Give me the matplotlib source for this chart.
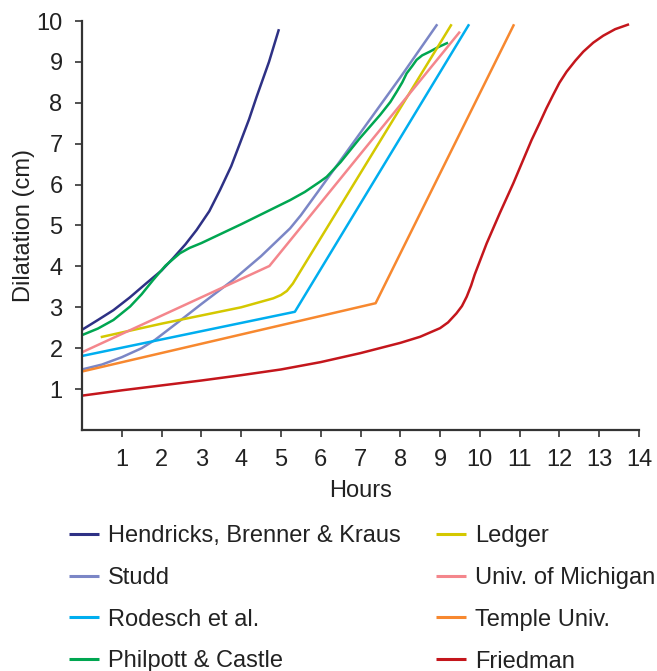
import matplotlib
matplotlib.use("Agg")
import matplotlib.pyplot as plt

plt.rcParams['font.family'] = ['Liberation Sans', 'DejaVu Sans']

# ---- data (hours, dilatation cm) ----
hendricks_x = [0, 0.4, 0.79, 1.2, 1.62, 2.0, 2.29, 2.6, 2.88, 3.2, 3.47, 3.75, 3.97, 4.2, 4.39, 4.7, 4.95]
hendricks_y = [2.45, 2.69, 2.93, 3.24, 3.59, 3.9, 4.2, 4.54, 4.89, 5.35, 5.87, 6.45, 7.01, 7.6, 8.15, 9.0, 9.8]

studd_x = [0, 0.5, 1, 1.5, 1.83, 2.5, 3, 3.8, 4.5, 5.23, 5.5, 6, 7, 8, 8.93]
studd_y = [1.48, 1.6, 1.78, 2.0, 2.2, 2.7, 3.08, 3.67, 4.25, 4.93, 5.25, 5.92, 7.27, 8.62, 9.92]

rodesch_x = [0, 5.35, 9.73]
rodesch_y = [1.81, 2.89, 9.92]

philpott_x = [0, 0.4, 0.79, 1.21, 1.5, 1.79, 2.1, 2.46, 2.7, 3, 4, 5.23, 5.6, 5.98, 6.15, 6.5, 6.98, 7.49, 7.75, 7.91, 8.05, 8.16, 8.3, 8.41, 8.55, 8.74, 8.95, 9.2]
philpott_y = [2.32, 2.48, 2.69, 3.02, 3.32, 3.67, 4.02, 4.32, 4.45, 4.57, 5.03, 5.62, 5.82, 6.07, 6.19, 6.55, 7.13, 7.7, 8.02, 8.27, 8.5, 8.72, 8.9, 9.05, 9.16, 9.25, 9.36, 9.47]

ledger_x = [0.47, 2, 4, 4.81, 5.0, 5.15, 5.3, 5.45, 9.29]
ledger_y = [2.27, 2.6, 3.0, 3.22, 3.3, 3.4, 3.58, 3.82, 9.92]

michigan_x = [0, 4.71, 9.5]
michigan_y = [1.9, 4.01, 9.74]

temple_x = [0, 7.38, 10.86]
temple_y = [1.43, 3.1, 9.92]

friedman_x = [0, 1, 2, 3, 4, 5, 6, 7, 8, 8.5, 9.0, 9.2, 9.41, 9.55, 9.67, 9.78, 9.87, 10.17, 10.5, 10.84, 11.3, 11.5, 11.67, 11.84, 12.0, 12.18, 12.4, 12.6, 12.85, 13.1, 13.4, 13.75]
friedman_y = [0.84, 0.97, 1.09, 1.21, 1.34, 1.48, 1.66, 1.88, 2.13, 2.28, 2.49, 2.63, 2.85, 3.03, 3.26, 3.53, 3.8, 4.56, 5.3, 6.03, 7.09, 7.5, 7.86, 8.19, 8.49, 8.76, 9.03, 9.25, 9.47, 9.64, 9.8, 9.92]

labels = ["Hendricks, Brenner & Kraus", "Studd", "Rodesch et al.", "Philpott & Castle",
          "Ledger", "Univ. of Michigan", "Temple Univ.", "Friedman"]
colors = ["#2e3185", "#7b86c6", "#00aeef", "#00a651",
          "#d4c800", "#f4868c", "#f7882f", "#c4161c"]
series = [(hendricks_x, hendricks_y), (studd_x, studd_y), (rodesch_x, rodesch_y),
          (philpott_x, philpott_y), (ledger_x, ledger_y), (michigan_x, michigan_y),
          (temple_x, temple_y), (friedman_x, friedman_y)]

x_ticks = list(range(1, 15))
y_ticks = list(range(1, 11))

FS = 17

fig = plt.figure(figsize=(6.57, 6.71), dpi=100)
ax = fig.add_axes([82/657, 1-430/671, (639-82)/657, (430-21)/671])

handles = []
for (xs, ys), c, lab in zip(series, colors, labels):
    h, = ax.plot(xs, ys, color=c, lw=1.8, label=lab, solid_capstyle='butt',
                 solid_joinstyle='round')
    handles.append(h)

ax.set_xlim(0, 14)
ax.set_ylim(0, 10)
ax.set_xticks(x_ticks)
ax.set_yticks(y_ticks)
ax.tick_params(direction='out', length=5, width=1.2, color='#333333',
               labelsize=FS, labelcolor='#222222')
ax.tick_params(axis='x', pad=8.5)
ax.tick_params(axis='y', pad=9)
for s in ['top', 'right']:
    ax.spines[s].set_visible(False)
for s in ['left', 'bottom']:
    ax.spines[s].set_linewidth(1.6)
    ax.spines[s].set_color('#333333')

ax.set_xlabel("Hours", fontsize=FS, color='#222222', labelpad=7)
ax.set_ylabel("Dilatation (cm)", fontsize=FS, color='#222222', labelpad=1)

leg = fig.legend(handles=handles, labels=labels, ncol=2, loc='upper left',
                 bbox_to_anchor=(69/657, 1-525/671), frameon=False, fontsize=FS,
                 handlelength=1.27, handletextpad=0.38, columnspacing=1.5,
                 labelspacing=0.84, borderaxespad=0, borderpad=0)
for t in leg.get_texts():
    t.set_color('#222222')
for l in leg.get_lines():
    l.set_linewidth(2.2)

fig.savefig("out.png", dpi=100)
